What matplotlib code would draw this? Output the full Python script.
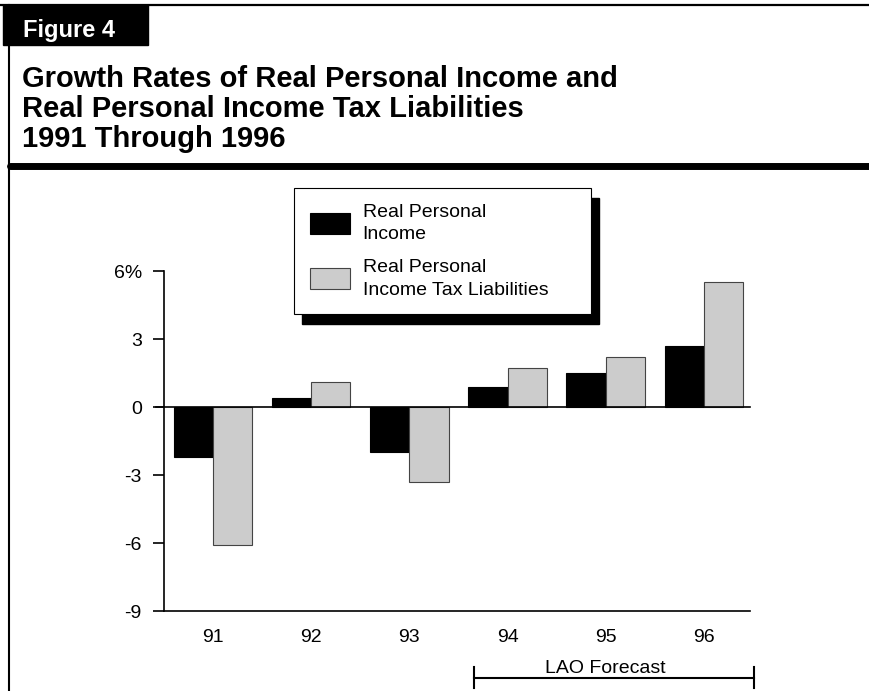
import numpy as np
import matplotlib as mpl
mpl.use('Agg')
import matplotlib.pyplot as plt
from matplotlib.patches import Rectangle
from matplotlib.lines import Line2D
import matplotlib.transforms as mtransforms

plt.rcParams['font.family'] = ['Liberation Sans', 'DejaVu Sans']

# data (percent growth)
years = ['91', '92', '93', '94', '95', '96']
income = [-2.2, 0.4, -2.0, 0.9, 1.5, 2.7]
tax_liab = [-6.1, 1.1, -3.3, 1.7, 2.2, 5.5]
yticks = [-9, -6, -3, 0, 3, 6]
ytick_labels = ['-9', '-6', '-3', '0', '3', '6%']
series_names = ['Real Personal\nIncome', 'Real Personal\nIncome Tax Liabilities']

fig = plt.figure(figsize=(8.7, 6.91), dpi=100)

# frame / header (pixel helpers)
W, H = 870, 691
def fx(px): return px / W
def fy(py): return 1 - py / H

fig.add_artist(Line2D([0, 1], [fy(5), fy(5)], color='black', lw=1.6))
fig.add_artist(Line2D([fx(9), fx(9)], [fy(5), 0], color='black', lw=1.5))
fig.add_artist(Rectangle((fx(3), fy(45)), fx(145), 40 / H, color='black'))
fig.text(fx(23), fy(37), 'Figure 4', color='white', fontsize=17, fontweight='bold', va='baseline')
title = ['Growth Rates of Real Personal Income and',
         'Real Personal Income Tax Liabilities',
         '1991 Through 1996']
for i, line in enumerate(title):
    fig.text(fx(22), fy(87 + 30 * i), line, fontsize=21, fontweight='bold', va='baseline')
fig.add_artist(Line2D([fx(10), 1], [fy(165.5), fy(165.5)], color='black', lw=5,
                      solid_capstyle='round'))

# chart
ax = fig.add_axes([fx(164), 80 / H, fx(586), 340 / H])
x = np.arange(len(years))
w = 0.4
ax.bar(x - w / 2, income, w, color='black', edgecolor='black', lw=0.8, label=series_names[0])
ax.bar(x + w / 2, tax_liab, w, color='#cccccc', edgecolor='#444444', lw=0.8, label=series_names[1])
ax.axhline(0, color='black', lw=1.2, xmin=-0.014, clip_on=False)

ax.set_ylim(-9, 6)
ax.set_xlim(-0.5, 5.47)
ax.set_yticks(yticks)
ax.set_yticklabels(ytick_labels)
ax.set_xticks(x)
ax.set_xticklabels(years)
ax.tick_params(axis='y', length=8, width=1.2, pad=8, labelsize=14)
ax.tick_params(axis='x', length=0, pad=13, labelsize=14)
for s in ['top', 'right']:
    ax.spines[s].set_visible(False)
ax.spines['left'].set_linewidth(1.2)
ax.spines['bottom'].set_linewidth(1.2)

# LAO forecast bracket
trans = mtransforms.blended_transform_factory(ax.transData, ax.transAxes)
ax.plot([2.66, 5.51], [-0.197, -0.197], color='black', lw=1.5, transform=trans, clip_on=False)
for xe in [2.66, 5.51]:
    ax.plot([xe, xe], [-0.165, -0.226], color='black', lw=1.5, transform=trans, clip_on=False)
ax.text(4.0, -0.182, 'LAO Forecast', transform=trans, ha='center', va='baseline', fontsize=14)

# legend with a heavy drop shadow
leg = ax.legend(loc='upper left', mode='expand',
                bbox_to_anchor=(fx(294), fy(315), fx(297), 127 / H), bbox_transform=fig.transFigure,
                borderaxespad=0, fontsize=14, handlelength=2.06, handleheight=1.29,
                labelspacing=0.8, borderpad=0.8, handletextpad=0.67, fancybox=False,
                framealpha=1, edgecolor='black')
for t in leg.get_texts():
    t.set_linespacing(1.45)
leg.get_frame().set_linewidth(0.8)
fig.canvas.draw()
bb = leg.get_window_extent().transformed(fig.transFigure.inverted())
fig.add_artist(Rectangle((bb.x0 + fx(8), bb.y0 - 10 / H), bb.width, bb.height,
                         color='black', zorder=0))
ax.set_zorder(1)
ax.patch.set_alpha(0)

plt.savefig('out.png', dpi=100)
